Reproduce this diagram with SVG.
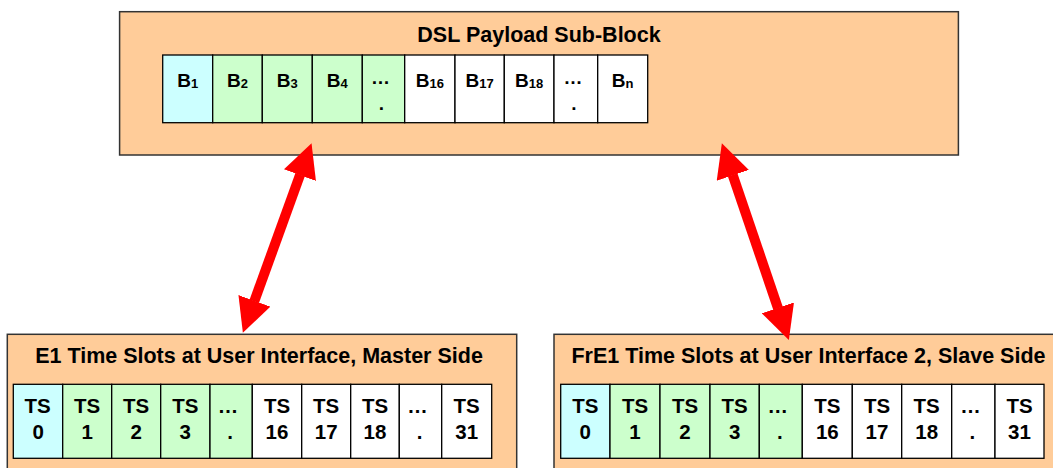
<svg xmlns="http://www.w3.org/2000/svg" width="1053" height="468" viewBox="0 0 1053 468">
  <defs>
    <style>
      .box { fill: #FFCC99; stroke: #333333; stroke-width: 1.5; }
      .cell { stroke: #000000; stroke-width: 1.3; }
      .cy { fill: #CCFFFF; }
      .gr { fill: #CCFFCC; }
      .wh { fill: #FFFFFF; }
      .title { font-family: "Liberation Sans", Arial, sans-serif; font-weight: bold; font-size: 21.5px; fill: #000; text-anchor: middle; }
      .lbl { font-family: "Liberation Sans", Arial, sans-serif; font-weight: bold; font-size: 19px; fill: #000; text-anchor: middle; }
      .ts { font-family: "Liberation Sans", Arial, sans-serif; font-weight: bold; font-size: 20.5px; fill: #000; text-anchor: middle; }
      .sub { font-size: 13px; }
      .arrow { stroke: #FF0000; stroke-width: 10; fill: none; marker-start: url(#head); marker-end: url(#head); }
    </style>
    <marker id="head" markerUnits="userSpaceOnUse" viewBox="0 0 34 34" markerWidth="34" markerHeight="34" refX="0.5" refY="17" orient="auto-start-reverse">
      <path d="M0,0 L34,17 L0,34 Z" fill="#FF0000"/>
    </marker>
  </defs>

  <g id="dsl-payload">
    <rect class="box" x="119.6" y="11.7" width="838.8" height="143.3"/>
    <text class="title" x="539" y="41.7">DSL Payload Sub-Block</text>
    <rect class="cell cy" x="162.7" y="55" width="50" height="67.7"/>
    <rect class="cell gr" x="212.7" y="55" width="49.6" height="67.7"/>
    <rect class="cell gr" x="262.3" y="55" width="50" height="67.7"/>
    <rect class="cell gr" x="312.3" y="55" width="50" height="67.7"/>
    <rect class="cell gr" x="362.3" y="55" width="42.4" height="67.7"/>
    <rect class="cell wh" x="404.7" y="55" width="50.3" height="67.7"/>
    <rect class="cell wh" x="455" y="55" width="49.3" height="67.7"/>
    <rect class="cell wh" x="504.3" y="55" width="49.7" height="67.7"/>
    <rect class="cell wh" x="554" y="55" width="43.7" height="67.7"/>
    <rect class="cell wh" x="597.7" y="55" width="50" height="67.7"/>
    <text class="lbl" x="187.7" y="86.5">B<tspan class="sub" dy="1.5">1</tspan></text>
    <text class="lbl" x="237.5" y="86.5">B<tspan class="sub" dy="1.5">2</tspan></text>
    <text class="lbl" x="287.3" y="86.5">B<tspan class="sub" dy="1.5">3</tspan></text>
    <text class="lbl" x="337.3" y="86.5">B<tspan class="sub" dy="1.5">4</tspan></text>
    <text class="lbl" x="380.5" y="83.5">…</text>
    <text class="lbl" x="381.5" y="109.5">.</text>
    <text class="lbl" x="429.8" y="86.5">B<tspan class="sub" dy="1.5">16</tspan></text>
    <text class="lbl" x="479.6" y="86.5">B<tspan class="sub" dy="1.5">17</tspan></text>
    <text class="lbl" x="529.1" y="86.5">B<tspan class="sub" dy="1.5">18</tspan></text>
    <text class="lbl" x="573" y="83.5">…</text>
    <text class="lbl" x="574" y="109.5">.</text>
    <text class="lbl" x="622.7" y="86.5">B<tspan class="sub" dy="1.5">n</tspan></text>
  </g>

  <g id="e1-master">
    <rect class="box" x="7.3" y="334.3" width="509.4" height="150"/>
    <text class="title" x="259" y="363.3">E1 Time Slots at User Interface, Master Side</text>
    <rect class="cell cy" x="13.3" y="384.3" width="49.4" height="74"/>
    <rect class="cell gr" x="62.7" y="384.3" width="49" height="74"/>
    <rect class="cell gr" x="111.7" y="384.3" width="49" height="74"/>
    <rect class="cell gr" x="160.7" y="384.3" width="49.3" height="74"/>
    <rect class="cell gr" x="210" y="384.3" width="42.3" height="74"/>
    <rect class="cell wh" x="252.3" y="384.3" width="49.4" height="74"/>
    <rect class="cell wh" x="301.7" y="384.3" width="49" height="74"/>
    <rect class="cell wh" x="350.7" y="384.3" width="48.6" height="74"/>
    <rect class="cell wh" x="399.3" y="384.3" width="42.4" height="74"/>
    <rect class="cell wh" x="441.7" y="384.3" width="50" height="74"/>
    <text class="ts" x="37.5" y="413.3">TS</text><text class="ts" x="38.3" y="439.3">0</text>
    <text class="ts" x="87.2" y="413.3">TS</text><text class="ts" x="87.2" y="439.3">1</text>
    <text class="ts" x="136.2" y="413.3">TS</text><text class="ts" x="136.2" y="439.3">2</text>
    <text class="ts" x="185.3" y="413.3">TS</text><text class="ts" x="185.3" y="439.3">3</text>
    <text class="ts" x="228" y="413.3">…</text><text class="ts" x="230" y="439.3">.</text>
    <text class="ts" x="277" y="413.3">TS</text><text class="ts" x="277" y="439.3">16</text>
    <text class="ts" x="326.2" y="413.3">TS</text><text class="ts" x="326.2" y="439.3">17</text>
    <text class="ts" x="375" y="413.3">TS</text><text class="ts" x="375" y="439.3">18</text>
    <text class="ts" x="417.5" y="413.3">…</text><text class="ts" x="419.5" y="439.3">.</text>
    <text class="ts" x="466.7" y="413.3">TS</text><text class="ts" x="466.7" y="439.3">31</text>
  </g>

  <g id="fre1-slave">
    <rect class="box" x="554" y="334.3" width="509.4" height="150"/>
    <text class="title" x="808.5" y="363.3">FrE1 Time Slots at User Interface 2, Slave Side</text>
    <rect class="cell cy" x="560.7" y="384.3" width="49.3" height="74"/>
    <rect class="cell gr" x="610" y="384.3" width="50" height="74"/>
    <rect class="cell gr" x="660" y="384.3" width="50" height="74"/>
    <rect class="cell gr" x="710" y="384.3" width="49.3" height="74"/>
    <rect class="cell gr" x="759.3" y="384.3" width="43" height="74"/>
    <rect class="cell wh" x="802.3" y="384.3" width="50" height="74"/>
    <rect class="cell wh" x="852.3" y="384.3" width="49.4" height="74"/>
    <rect class="cell wh" x="901.7" y="384.3" width="50" height="74"/>
    <rect class="cell wh" x="951.7" y="384.3" width="43.3" height="74"/>
    <rect class="cell wh" x="995" y="384.3" width="49" height="74"/>
    <text class="ts" x="585.3" y="413.3">TS</text><text class="ts" x="585.3" y="439.3">0</text>
    <text class="ts" x="635" y="413.3">TS</text><text class="ts" x="635" y="439.3">1</text>
    <text class="ts" x="685" y="413.3">TS</text><text class="ts" x="685" y="439.3">2</text>
    <text class="ts" x="734.6" y="413.3">TS</text><text class="ts" x="734.6" y="439.3">3</text>
    <text class="ts" x="777.8" y="413.3">…</text><text class="ts" x="779.8" y="439.3">.</text>
    <text class="ts" x="827.3" y="413.3">TS</text><text class="ts" x="827.3" y="439.3">16</text>
    <text class="ts" x="877" y="413.3">TS</text><text class="ts" x="877" y="439.3">17</text>
    <text class="ts" x="926.7" y="413.3">TS</text><text class="ts" x="926.7" y="439.3">18</text>
    <text class="ts" x="970.4" y="413.3">…</text><text class="ts" x="972.4" y="439.3">.</text>
    <text class="ts" x="1019.5" y="413.3">TS</text><text class="ts" x="1019.5" y="439.3">31</text>
  </g>

  <g id="connectors">
    <line class="arrow" x1="300.13" y1="174.67" x2="254.27" y2="301.33"/>
    <line class="arrow" x1="732.65" y1="174.89" x2="778.05" y2="308.31"/>
  </g>
</svg>
